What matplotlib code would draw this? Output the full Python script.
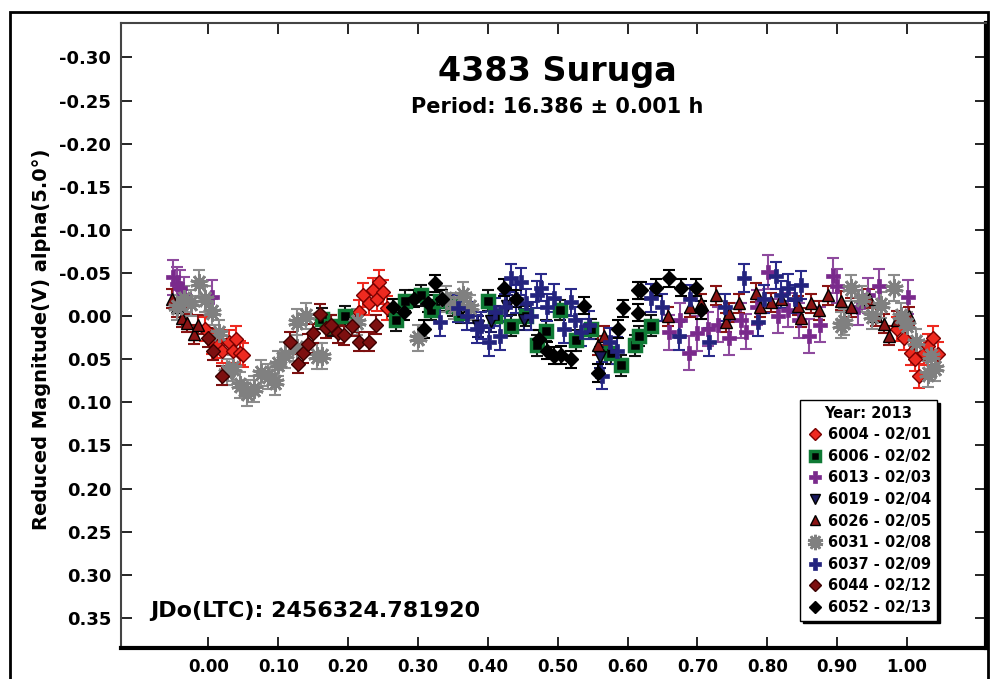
import matplotlib
matplotlib.use("Agg")
import matplotlib.pyplot as plt
from matplotlib.lines import Line2D
from matplotlib.patches import Rectangle

plt.rcParams["font.family"] = ["DejaVu Sans"]
plt.rcParams["font.weight"] = "bold"

# session labels (legend order)
SESSIONS = ["6004 - 02/01", "6006 - 02/02", "6013 - 02/03", "6019 - 02/04", "6026 - 02/05",
            "6031 - 02/08", "6037 - 02/09", "6044 - 02/12", "6052 - 02/13"]

# phase / reduced magnitude
p6004 = [-0.005, 0.005, 0.012, 0.02, 0.03, 0.035, 0.039, 0.046, 0.05,
         0.215, 0.222, 0.23, 0.236, 0.242, 0.244, 0.25, 0.256,
         0.985, 0.995, 1.006, 1.012, 1.017, 1.024, 1.03, 1.037, 1.044]
m6004 = [0.015, 0.03, 0.035, 0.04, 0.03, 0.04, 0.026, 0.043, 0.045,
         -0.005, -0.024, -0.015, -0.03, -0.02, -0.039, -0.028, -0.009,
         0.015, 0.025, 0.043, 0.05, 0.069, 0.043, 0.035, 0.025, 0.044]

p6006 = [0.163, 0.175, 0.196, 0.268, 0.282, 0.304, 0.318, 0.332, 0.35, 0.362,
         0.4, 0.41, 0.433, 0.454, 0.47, 0.483, 0.504, 0.526, 0.547, 0.576,
         0.59, 0.61, 0.616, 0.633]
m6006 = [0.003, 0.011, 0.0, 0.005, -0.018, -0.024, -0.007, -0.018, -0.012, -0.004,
         -0.018, 0.0, 0.011, 0.0, 0.034, 0.017, -0.007, 0.028, 0.015, 0.043,
         0.057, 0.034, 0.023, 0.011]

p6013 = [-0.05, -0.045, -0.04, -0.035, 0.005, 0.66, 0.675, 0.688, 0.70, 0.715,
         0.73, 0.745, 0.762, 0.77, 0.785, 0.801, 0.815, 0.83, 0.845, 0.86,
         0.875, 0.894, 0.90, 0.93, 0.944, 0.96, 1.001]
m6013 = [-0.045, -0.037, -0.033, -0.025, -0.022, 0.019, 0.005, 0.043, 0.02, 0.015,
         0.01, 0.025, 0.005, 0.018, -0.01, -0.051, 0.0, -0.007, 0.005, 0.023,
         0.01, -0.047, -0.035, -0.01, -0.024, -0.035, -0.022]

p6019 = [0.372, 0.386, 0.405, 0.428, 0.452, 0.56]
m6019 = [-0.004, 0.012, 0.006, -0.012, 0.004, 0.048]

p6026 = [-0.052, -0.045, -0.037, -0.03, -0.02, -0.015, 0.557, 0.566, 0.658, 0.69,
         0.705, 0.726, 0.741, 0.745, 0.76, 0.784, 0.79, 0.805, 0.82, 0.844,
         0.848, 0.862, 0.874, 0.887, 0.905, 0.92, 0.946, 0.955, 0.967, 0.974,
         0.985, 1.003]
m6026 = [-0.02, -0.01, 0.002, 0.008, 0.021, 0.01, 0.034, 0.023, 0.0, -0.01,
         -0.015, -0.024, 0.007, -0.004, -0.015, -0.027, -0.01, -0.016, -0.02, -0.012,
         0.002, -0.015, -0.007, -0.024, -0.018, -0.01, -0.02, 0.0, 0.009, 0.023,
         0.005, 0.0]

p6031 = [-0.045, -0.035, -0.025, -0.014, -0.005, 0.005, 0.015, 0.027, 0.035, 0.046,
         0.056, 0.065, 0.075, 0.085, 0.096, 0.099, 0.11, 0.127, 0.127, 0.14,
         0.155, 0.163, 0.213, 0.3, 0.34, 0.352, 0.364, 0.375, 0.905, 0.91,
         0.92, 0.935, 0.95, 0.963, 0.981, 0.991, 1.0, 1.013, 1.03, 1.034, 1.04]
m6031 = [-0.01, -0.02, -0.015, -0.038, -0.02, -0.005, 0.02, 0.065, 0.06, 0.08,
         0.089, 0.085, 0.066, 0.07, 0.077, 0.055, 0.045, 0.037, 0.007, 0.0,
         0.046, 0.046, 0.007, 0.025, -0.02, -0.012, -0.024, -0.01, 0.01, 0.007,
         -0.033, -0.02, 0.0, -0.013, -0.033, 0.0, 0.01, 0.03, 0.067, 0.046, 0.06]

p6037 = [0.332, 0.357, 0.37, 0.385, 0.39, 0.401, 0.41, 0.418, 0.425, 0.433,
         0.44, 0.447, 0.455, 0.462, 0.47, 0.476, 0.485, 0.495, 0.509, 0.519,
         0.525, 0.533, 0.545, 0.564, 0.575, 0.585, 0.633, 0.65, 0.673, 0.69,
         0.716, 0.74, 0.766, 0.786, 0.795, 0.812, 0.82, 0.829, 0.84, 0.848]
m6037 = [0.007, -0.009, 0.0, 0.015, 0.011, 0.03, -0.005, 0.023, -0.01, -0.044,
         -0.02, -0.04, -0.015, 0.0, -0.025, -0.033, -0.01, -0.021, 0.015, -0.016,
         0.005, 0.019, 0.01, 0.069, 0.03, 0.04, -0.021, -0.01, 0.023, -0.02,
         0.03, -0.01, -0.044, 0.007, -0.02, -0.047, -0.025, -0.033, -0.02, -0.036]

p6044 = [0.0, 0.006, 0.02, 0.117, 0.129, 0.136, 0.143, 0.15, 0.16, 0.168,
         0.175, 0.185, 0.194, 0.205, 0.215, 0.23, 0.24]
m6044 = [0.025, 0.04, 0.069, 0.03, 0.055, 0.043, 0.032, 0.02, -0.003, 0.014,
         0.01, 0.02, 0.022, 0.012, 0.03, 0.03, 0.01]

p6052 = [0.265, 0.28, 0.294, 0.308, 0.315, 0.325, 0.335, 0.423, 0.44, 0.473,
         0.485, 0.495, 0.505, 0.519, 0.537, 0.557, 0.586, 0.593, 0.615, 0.615,
         0.619, 0.64, 0.659, 0.676, 0.698, 0.705]
m6052 = [-0.01, -0.005, -0.02, 0.015, -0.015, -0.038, -0.02, -0.033, -0.02, 0.026,
         0.04, 0.046, 0.045, 0.05, -0.012, 0.066, 0.015, -0.009, -0.03, -0.004,
         -0.03, -0.033, -0.044, -0.033, -0.033, -0.007]

# typical error per session
ERRS = [0.014, 0.012, 0.02, 0.012, 0.011, 0.015, 0.016, 0.011, 0.01]

PHASES = [p6004, p6006, p6013, p6019, p6026, p6031, p6037, p6044, p6052]
MAGS = [m6004, m6006, m6013, m6019, m6026, m6031, m6037, m6044, m6052]

# marker, face, edge, size, edge width, errorbar colour
STYLES = [
    ("D", "#ee2a20", "#7a0000", 7, 1.0, "#ee2a20"),
    ("s", "black", "#0f7a35", 8, 2.5, "#111111"),
    ("P", "#7a2a8c", "#7a2a8c", 10, 0.5, "#8e4a9e"),
    ("v", "#1a1a5e", "black", 8, 1.0, "#1a1a5e"),
    ("^", "#8b1414", "black", 8, 1.0, "#8b1414"),
    ((10, 2, 0), "#808080", "#808080", 13, 2.0, "#8c8c8c"),
    ("P", "#24247e", "#24247e", 10, 0.5, "#2a2a8a"),
    ("D", "#7d1010", "#3a0000", 7, 1.0, "#7d1010"),
    ("D", "black", "black", 7, 1.0, "black"),
]

fig = plt.figure(figsize=(9.95, 6.79), dpi=100)
ax = fig.add_axes([121 / 995, 31 / 679, 865 / 995, 625 / 679])

for xs, ys, err, st in zip(PHASES, MAGS, ERRS, STYLES):
    marker, face, edge, size, mew, ecol = st
    ax.errorbar(xs, ys, yerr=err, fmt="none", ecolor=ecol, elinewidth=1.5,
                capsize=4, capthick=1.5, zorder=2)
    ax.plot(xs, ys, linestyle="none", marker=marker, markersize=size,
            markerfacecolor=face, markeredgecolor=edge, markeredgewidth=mew, zorder=3)

ax.set_xlim(-0.125, 1.113)
ax.set_ylim(0.385, -0.34)
ax.set_xticks([i / 10 for i in range(11)])
ax.set_xticklabels([f"{i / 10:.2f}" for i in range(11)], fontsize=12, fontweight="bold")
yt = [-0.30, -0.25, -0.20, -0.15, -0.10, -0.05, 0.0, 0.05, 0.10, 0.15, 0.20, 0.25, 0.30, 0.35]
ax.set_yticks(yt)
ax.set_yticklabels([f"{v:.2f}" if v != 0 else "0.00" for v in yt], fontsize=13, fontweight="bold")
ax.tick_params(direction="in", length=8, width=1.2, top=True, right=True, pad=7)

for side in ["left", "top"]:
    ax.spines[side].set_linewidth(1.5)
    ax.spines[side].set_color("#444444")
for side in ["right", "bottom"]:
    ax.spines[side].set_linewidth(3)
    ax.spines[side].set_color("black")

fig.text(0.56, 0.895, "4383 Suruga", ha="center", va="center", fontsize=24, fontweight="bold")
fig.text(0.56, 0.842, "Period: 16.386 \u00b1 0.001 h", ha="center", va="center",
         fontsize=15, fontweight="bold")
ax.text(0.0335, 0.059, "JDo(LTC): 2456324.781920", transform=ax.transAxes,
        ha="left", va="center", fontsize=16, fontweight="bold")
fig.text(0.042, 0.5, "Reduced Magnitude(V) alpha(5.0\u00b0)", rotation=90,
         ha="center", va="center", fontsize=14, fontweight="bold")

handles = [Line2D([], [], linestyle="none", marker=st[0], markersize=st[3] * 0.85,
                  markerfacecolor=st[1], markeredgecolor=st[2], markeredgewidth=st[4])
           for st in STYLES]
leg = ax.legend(handles, SESSIONS, loc="upper left", bbox_to_anchor=(0.785, 0.397),
                borderaxespad=0, title="Year: 2013", fancybox=False, framealpha=1,
                edgecolor="black", shadow={"color": "black", "alpha": 1},
                prop={"size": 10.5, "weight": "bold"},
                title_fontproperties={"size": 10.5, "weight": "bold"},
                labelspacing=0.45, handletextpad=0.3, handlelength=1.2, borderpad=0.4)
leg.get_frame().set_linewidth(1.0)

fig.patches.append(Rectangle((10 / 995, -0.05), 978 / 995, 1.05 - 12 / 679, fill=False,
                             edgecolor="black", linewidth=2, transform=fig.transFigure,
                             figure=fig))

fig.savefig("out.png", dpi=100)
